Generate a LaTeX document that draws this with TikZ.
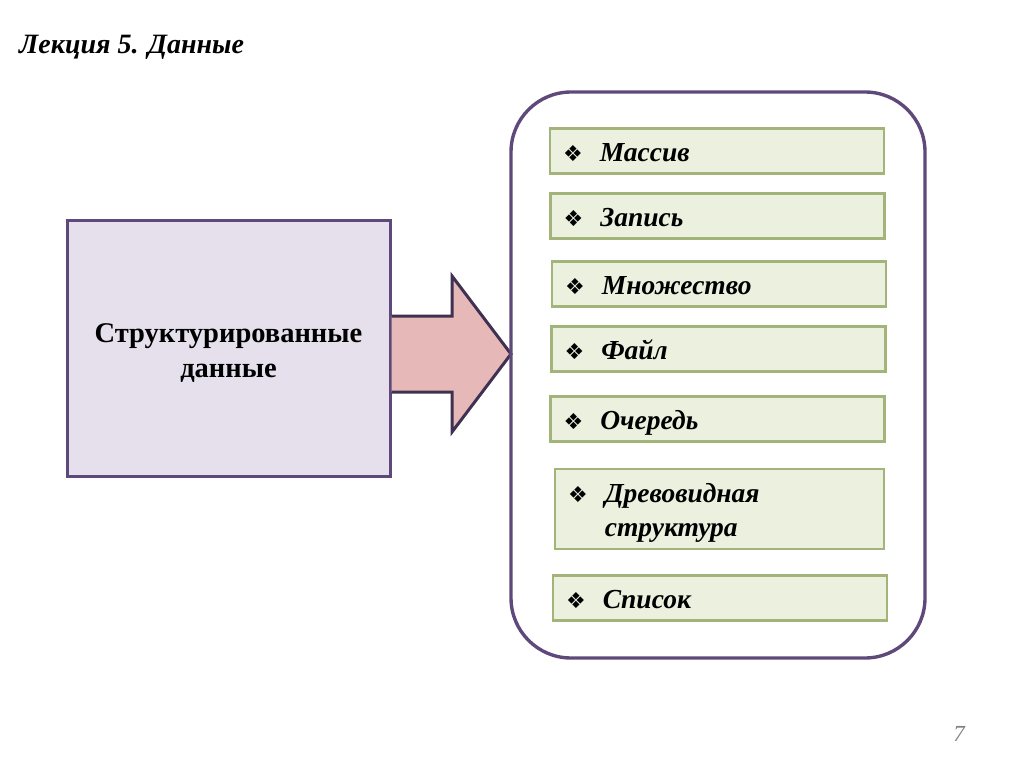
\documentclass[tikz,border=0pt]{standalone}
\usepackage{fontspec}
\setmainfont{Liberation Serif}
\newfontfamily\symfont{DejaVu Sans}
\usetikzlibrary{positioning}

\definecolor{lilac}{HTML}{E5E0EC}
\definecolor{plum}{HTML}{5F497A}
\definecolor{darkplum}{HTML}{3F3151}
\definecolor{rose}{HTML}{E6B9B8}
\definecolor{palegreen}{HTML}{EBF1DE}
\definecolor{olive}{HTML}{A2B479}

\newcommand{\bul}{{\symfont\fontsize{22}{22}\selectfont\symbol{"2756}}}
\newcommand{\itm}[1]{\begin{tabular}{@{}l@{\hspace{17pt}}l@{}}\bul & #1\end{tabular}}

\begin{document}
\begin{tikzpicture}[x=1pt,y=-1pt]
\tikzstyle{every node}+=[inner sep=0pt]
\tikzstyle{itembox}=[draw=olive, fill=palegreen, line width=2.2pt, minimum width=334pt, minimum height=45pt]
\tikzstyle{itemtext}=[anchor=west, align=left, font=\bfseries\itshape\fontsize{27.5}{34}\selectfont]
\useasboundingbox (0,0) rectangle (1024,767);
% title and page number
\node[anchor=west, font=\bfseries\itshape\fontsize{28}{30}\selectfont] (title) at (19,47) {Лекция 5. Данные};
\node[text=gray, font=\itshape\fontsize{23}{24}\selectfont] (page) at (959,734) {7};
% left box
\node[draw=plum, fill=lilac, line width=3pt, minimum width=323pt, minimum height=255pt] (sdata) at (228.5,348.5) {};
\node[align=center, font=\bfseries\fontsize{28.5}{35}\selectfont] (sdatatext) at ([yshift=-5pt]sdata.center)
  {Структурированные\\данные};
% arrow
\draw[darkplum, fill=rose, line width=3pt, line join=miter]
  (sdata.east |- 0,316) -- (452,316) -- (452,276) -- (511,354) -- (452,432)
  -- (452,392) -- (sdata.east |- 0,392);
% container
\draw[plum, line width=3.4pt, rounded corners=60pt] (511,92) rectangle (925,658);
% items
\node[itembox] (massiv) at (717,151) {};
\node[itembox] (zapis) at (717.5,216) {};
\node[itembox] (mnozh) at (719,284) {};
\node[itembox] (fajl) at (718.5,349) {};
\node[itembox] (ochered) at (717.5,419) {};
\node[itembox, minimum width=329pt, minimum height=80pt] (derevo) at (719.5,509) {};
\node[itembox] (spisok) at (720,598) {};
\node[itemtext] at ([xshift=14pt,yshift=-4pt]massiv.west) {\itm{Массив}};
\node[itemtext] at ([xshift=14pt,yshift=-4pt]zapis.west) {\itm{Запись}};
\node[itemtext] at ([xshift=14pt,yshift=-4pt]mnozh.west) {\itm{Множество}};
\node[itemtext] at ([xshift=14pt,yshift=-4pt]fajl.west) {\itm{Файл}};
\node[itemtext] at ([xshift=14pt,yshift=-4pt]ochered.west) {\itm{Очередь}};
\node[itemtext] at ([xshift=14pt,yshift=-4pt]derevo.west) {\itm{Древовидная\\ & структура}};
\node[itemtext] at ([xshift=14pt,yshift=-4pt]spisok.west) {\itm{Список}};
\end{tikzpicture}
\end{document}
